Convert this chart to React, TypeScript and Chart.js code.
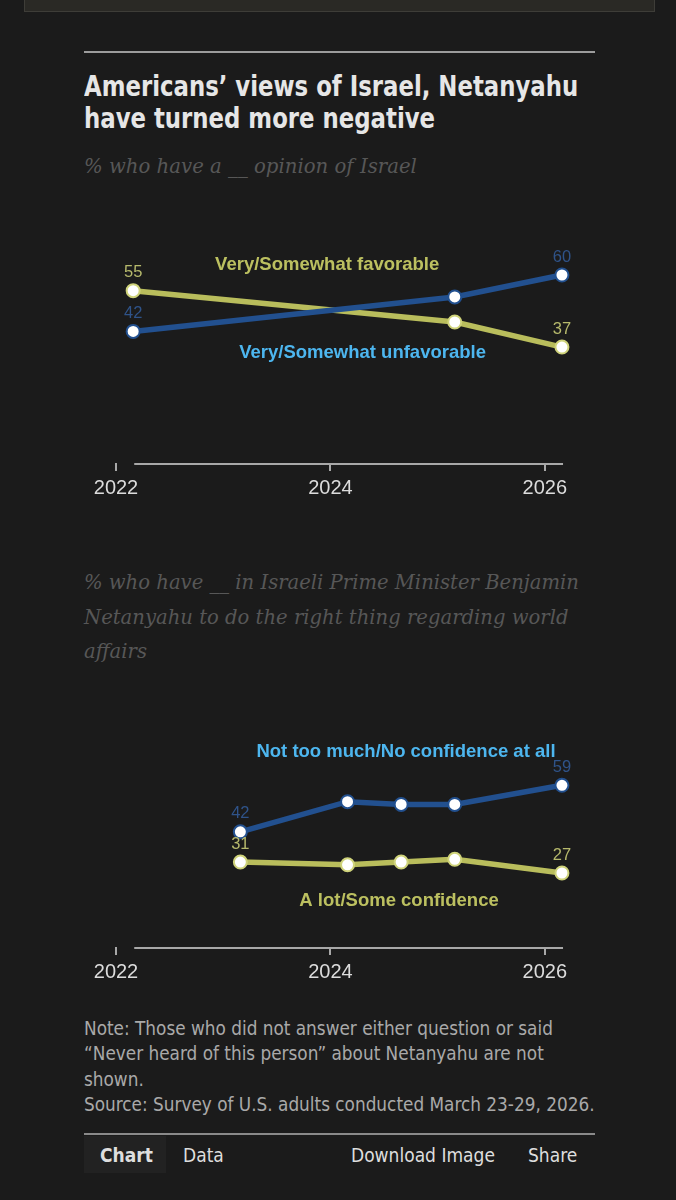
import React, { useEffect, useRef } from "react";
import { Chart, registerables } from "chart.js";

Chart.register(...registerables);

// ---------- data ----------
const tickYears = [2022, 2024, 2026];

const israelYears = [2022.16, 2025.16, 2026.16];
const israelUnfavorable = [42, 53, 60];
const israelFavorable = [55, 45, 37];

const netanyahuYears = [2023.16, 2024.16, 2024.66, 2025.16, 2026.16];
const netanyahuNoConfidence = [42, 53, 52, 52, 59];
const netanyahuConfidence = [31, 30, 31, 32, 27];

const israelNames = ["Very/Somewhat unfavorable", "Very/Somewhat favorable"];
const netanyahuNames = ["Not too much/No confidence at all", "A lot/Some confidence"];

// ---------- styles ----------
const BG = "#1b1b1b";
const BLUE = "#22508f";
const YELLOW = "#b9bd5c";
const BLUE_LABEL = "#4db6ef";
const YELLOW_LABEL = "#bcc060";
const BLUE_VALUE = "#2f5389";
const YELLOW_VALUE = "#b6b96c";
const AXIS = "#a8a8a8";
const CHART_FONT = "'Liberation Sans', Arial, sans-serif";
const COND_FONT = "'Liberation Sans Narrow', 'DejaVu Sans Condensed', 'Roboto Condensed', sans-serif";
const SERIF = "'DejaVu Serif', 'Liberation Serif', serif";

const X_MIN = 2022;
const X_MAX = 2026.2;
const AXIS_START = 2022.17;
const AXIS_END = 2026.17;

type Series = {
  values: number[];
  color: string;
  pointBorder: string;
  valueColor: string;
  name: string;
  nameColor: string;
  nameAt: [number, number];
};

const labelPlugin = {
  id: "customLabels",
  afterDatasetsDraw(chart: any, _args: any, opts: any) {
    const ctx = chart.ctx;
    const xs = chart.scales.x;
    const ys = chart.scales.y;
    const series: Series[] = opts.series || [];
    ctx.save();
    chart.data.datasets.forEach((ds: any, i: number) => {
      const meta = chart.getDatasetMeta(i);
      const s = series[i];
      const idxs = [0, meta.data.length - 1];
      ctx.font = `16.5px ${CHART_FONT}`;
      ctx.fillStyle = s.valueColor;
      ctx.textAlign = "center";
      ctx.textBaseline = "middle";
      idxs.forEach((k) => {
        const p = meta.data[k];
        ctx.fillText(String(ds.data[k].y), p.x, p.y - 18);
      });
      ctx.font = `bold 18.5px ${CHART_FONT}`;
      ctx.fillStyle = s.nameColor;
      ctx.fillText(s.name, xs.getPixelForValue(s.nameAt[0]), ys.getPixelForValue(s.nameAt[1]));
    });
    ctx.restore();
  },
  beforeDatasetsDraw(chart: any) {
    const ctx = chart.ctx;
    const xs = chart.scales.x;
    const y = chart.chartArea.bottom + 1;
    ctx.save();
    ctx.strokeStyle = AXIS;
    ctx.lineWidth = 2;
    ctx.beginPath();
    ctx.moveTo(xs.getPixelForValue(AXIS_START), y);
    ctx.lineTo(xs.getPixelForValue(AXIS_END), y);
    ctx.stroke();
    ctx.restore();
  },
};

function LineChart(props: {
  years: number[];
  series: Series[];
  yMax: number;
  top: number;
  height: number;
  padTop: number;
}) {
  const ref = useRef<HTMLCanvasElement | null>(null);
  useEffect(() => {
    if (!ref.current) return;
    const chart = new Chart(ref.current, {
      type: "line",
      data: {
        datasets: props.series.map((s) => ({
          data: props.years.map((x, i) => ({ x, y: s.values[i] })),
          borderColor: s.color,
          borderWidth: 5.5,
          pointRadius: 6.5,
          pointBorderWidth: 2,
          pointBackgroundColor: "#ffffff",
          pointBorderColor: s.pointBorder,
          pointHoverRadius: 6.5,
          tension: 0,
          clip: false as any,
        })),
      },
      options: {
        animation: false,
        responsive: false,
        maintainAspectRatio: false,
        events: [],
        layout: { padding: { left: 116, right: 676 - (116 + (X_MAX - X_MIN) * 107.2), top: props.padTop, bottom: 0 } },
        plugins: {
          legend: { display: false },
          tooltip: { enabled: false },
          customLabels: { series: props.series },
        } as any,
        scales: {
          x: {
            type: "linear",
            min: X_MIN,
            max: X_MAX,
            afterBuildTicks: (axis: any) => {
              axis.ticks = tickYears.map((v) => ({ value: v }));
            },
            ticks: {
              color: "#dcdcdc",
              font: { family: CHART_FONT, size: 20 },
              padding: 5,
              autoSkip: false,
              maxRotation: 0,
              callback: (v: any) => String(v),
            },
            grid: {
              drawOnChartArea: false,
              drawTicks: true,
              tickLength: 8,
              color: AXIS,
              lineWidth: 2,
            },
            border: { display: false },
          },
          y: {
            display: false,
            min: 0,
            max: props.yMax,
          },
        },
      },
      plugins: [labelPlugin],
    });
    return () => chart.destroy();
  }, []);
  return (
    <canvas
      ref={ref}
      width={676}
      height={props.height}
      style={{ position: "absolute", left: 0, top: props.top, width: 676, height: props.height }}
    />
  );
}

const israelSeries: Series[] = [
  {
    values: israelUnfavorable,
    color: BLUE,
    pointBorder: BLUE,
    valueColor: BLUE_VALUE,
    name: israelNames[0],
    nameColor: BLUE_LABEL,
    nameAt: [2024.3, 35.1],
  },
  {
    values: israelFavorable,
    color: YELLOW,
    pointBorder: "#cfd37a",
    valueColor: YELLOW_VALUE,
    name: israelNames[1],
    nameColor: YELLOW_LABEL,
    nameAt: [2023.97, 63.3],
  },
];

const netanyahuSeries: Series[] = [
  {
    values: netanyahuNoConfidence,
    color: BLUE,
    pointBorder: BLUE,
    valueColor: BLUE_VALUE,
    name: netanyahuNames[0],
    nameColor: BLUE_LABEL,
    nameAt: [2024.705, 71],
  },
  {
    values: netanyahuConfidence,
    color: YELLOW,
    pointBorder: "#cfd37a",
    valueColor: YELLOW_VALUE,
    name: netanyahuNames[1],
    nameColor: YELLOW_LABEL,
    nameAt: [2024.64, 16.8],
  },
];

export default function App() {
  useEffect(() => {
    document.body.style.margin = "0";
    document.body.style.background = BG;
  }, []);

  const abs = (o: React.CSSProperties): React.CSSProperties => ({ position: "absolute", margin: 0, ...o });

  return (
    <div style={{ position: "relative", width: 676, height: 1200, background: BG, overflow: "hidden" }}>
      <div style={abs({ left: 24, top: -1, width: 629, height: 11, background: "#2a2925", border: "1px solid #3e3d38" })} />
      <div style={abs({ left: 84, top: 51, width: 511, height: 2, background: "#9c9c9c" })} />
      <div
        style={abs({
          left: 84,
          top: 71,
          width: 600,
          fontFamily: COND_FONT,
          fontStretch: "condensed",
          fontWeight: 700,
          fontSize: 28.5,
          lineHeight: "32px",
          color: "#e6e6e6",
          transform: "scaleX(0.89)",
          transformOrigin: "left top",
          whiteSpace: "nowrap",
        })}
      >
        Americans’ views of Israel, Netanyahu
        <br />
        have turned more negative
      </div>
      <div
        style={abs({
          left: 84,
          top: 152,
          width: 560,
          fontFamily: SERIF,
          fontStyle: "italic",
          fontSize: 19.7,
          lineHeight: "30px",
          color: "#575757",
        })}
      >
        % who have a __ opinion of Israel
      </div>

      <LineChart years={israelYears} series={israelSeries} yMax={75} top={196} height={309} padTop={32} />

      <div
        style={abs({
          left: 84,
          top: 566,
          width: 580,
          fontFamily: SERIF,
          fontStyle: "italic",
          fontSize: 19.6,
          lineHeight: "34.5px",
          color: "#575757",
          whiteSpace: "nowrap",
        })}
      >
        % who have __ in Israeli Prime Minister Benjamin
        <br />
        Netanyahu to do the right thing regarding world
        <br />
        affairs
      </div>

      <LineChart years={netanyahuYears} series={netanyahuSeries} yMax={85} top={692} height={297} padTop={22} />

      <div
        style={abs({
          left: 84,
          top: 1016,
          width: 580,
          fontFamily: COND_FONT,
          fontStretch: "condensed",
          fontSize: 18.8,
          lineHeight: "25.3px",
          color: "#a9a9a9",
          whiteSpace: "nowrap",
        })}
      >
        Note: Those who did not answer either question or said
        <br />
        “Never heard of this person” about Netanyahu are not
        <br />
        shown.
        <br />
        Source: Survey of U.S. adults conducted March 23-29, 2026.
      </div>

      <div style={abs({ left: 84, top: 1133, width: 511, height: 2, background: "#8a8a8a" })} />
      <div style={abs({ left: 84, top: 1136, width: 82, height: 37, background: "#222222" })} />
      {[
        { t: "Chart", x: 100, b: true },
        { t: "Data", x: 183, b: false },
        { t: "Download Image", x: 351, b: false },
        { t: "Share", x: 528, b: false },
      ].map((it) => (
        <div
          key={it.t}
          style={abs({
            left: it.x,
            top: 1142,
            fontFamily: COND_FONT,
            fontStretch: "condensed",
            fontWeight: it.b ? 700 : 400,
            fontSize: 19,
            lineHeight: "26px",
            color: "#dedede",
            whiteSpace: "nowrap",
          })}
        >
          {it.t}
        </div>
      ))}
    </div>
  );
}
